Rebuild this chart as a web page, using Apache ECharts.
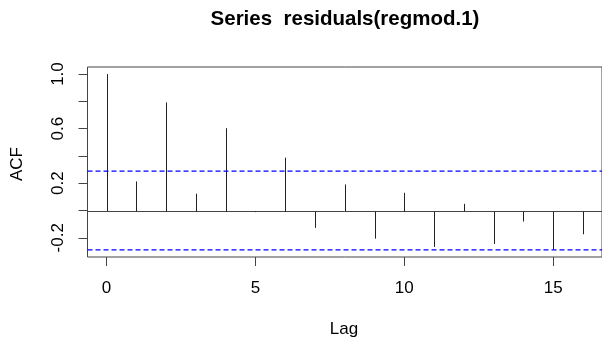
<!DOCTYPE html>
<html lang="en">
<head>
    <meta charset="UTF-8">
    <title>ACF residuals</title>
    <script src="https://cdn.jsdelivr.net/npm/echarts@6/dist/echarts.min.js"></script>
    <style>
        html, body { margin: 0; padding: 0; background: #fff; }
        #acfChart { width: 602px; height: 337px; }
    </style>
</head>
<body>
<div id="acfChart"></div>
<script type="text/javascript">
    // acf data
    var lags = [0, 1, 2, 3, 4, 5, 6, 7, 8, 9, 10, 11, 12, 13, 14, 15, 16];
    var acfValues = [1.0, 0.213, 0.792, 0.123, 0.603, -0.012, 0.387, -0.127, 0.191,
        -0.206, 0.130, -0.267, 0.049, -0.245, -0.081, -0.284, -0.174];
    var confLimit = 0.289;
    var xTicks = [0, 5, 10, 15];
    var yTicks = [-0.2, 0, 0.2, 0.4, 0.6, 0.8, 1.0];
    var yLabels = [-0.2, 0.2, 0.6, 1.0];

    var fontName = 'Liberation Sans, Arial, sans-serif';
    var chart = echarts.init(document.getElementById('acfChart'));

    var spikeData = lags.map(function (lag, i) { return [lag, acfValues[i]]; });
    // confidence band limits (dashed blue)
    var confLines = [confLimit, -confLimit];

    var option = {
        animation: false,
        grid: {
            left: 87.5, top: 67, width: 515, height: 190,
            show: true, borderColor: '#444', borderWidth: 1, backgroundColor: 'transparent'
        },
        xAxis: {
            type: 'value',
            min: -0.64, max: 16.64,
            axisLine: { show: false, onZero: false },
            splitLine: { show: false },
            axisTick: { show: true, customValues: xTicks, length: 9, lineStyle: { color: '#444' } },
            axisLabel: {
                customValues: xTicks, margin: 23,
                color: '#000', fontSize: 17, fontFamily: fontName
            }
        },
        yAxis: {
            type: 'value',
            min: -0.3406, max: 1.0516,
            axisLine: { show: false, onZero: false },
            splitLine: { show: false },
            axisTick: { show: true, customValues: yTicks, length: 9, lineStyle: { color: '#444' } },
            axisLabel: {
                customValues: yLabels, rotate: 90, margin: 21,
                color: '#000', fontSize: 17, fontFamily: fontName,
                formatter: function (v) { return v.toFixed(1); }
            }
        },
        graphic: [
            {
                type: 'text', x: 345, y: 19.5,
                style: {
                    text: 'Series  residuals(regmod.1)', fill: '#000',
                    font: 'bold 20.5px ' + fontName, align: 'center', verticalAlign: 'middle'
                }
            },
            {
                type: 'text', x: 344, y: 329,
                style: {
                    text: 'Lag', fill: '#000',
                    font: '17px ' + fontName, align: 'center', verticalAlign: 'middle'
                }
            },
            {
                type: 'text', x: 17, y: 164, rotation: Math.PI / 2,
                style: {
                    text: 'ACF', fill: '#000',
                    font: '17px ' + fontName, align: 'center', verticalAlign: 'middle'
                }
            }
        ],
        series: [
            {
                // zero line plus acf spikes
                type: 'custom',
                data: spikeData,
                renderItem: function (params, api) {
                    var cs = params.coordSys;
                    var p0 = api.coord([api.value(0), 0]);
                    var p1 = api.coord([api.value(0), api.value(1)]);
                    var x = Math.round(p0[0]) + 0.5;
                    var y0 = Math.round(p0[1]) + 0.5;
                    var children = [{
                        type: 'line',
                        shape: { x1: x, y1: y0, x2: x, y2: p1[1] },
                        style: { stroke: '#222', lineWidth: 1 }
                    }];
                    if (params.dataIndex === 0) {
                        children.push({
                            type: 'line',
                            shape: { x1: cs.x, y1: y0, x2: cs.x + cs.width, y2: y0 },
                            style: { stroke: '#444', lineWidth: 1 }
                        });
                    }
                    return { type: 'group', children: children };
                }
            },
            {
                type: 'custom',
                silent: true,
                data: confLines,
                encode: { y: 0 },
                renderItem: function (params, api) {
                    var cs = params.coordSys;
                    var y = api.coord([0, api.value(0)])[1];
                    return {
                        type: 'line',
                        shape: { x1: cs.x, y1: y, x2: cs.x + cs.width, y2: y },
                        style: { stroke: '#0000ff', lineWidth: 1.2, lineDash: [5, 3] }
                    };
                }
            }
        ]
    };
    chart.setOption(option);
</script>
</body>
</html>
